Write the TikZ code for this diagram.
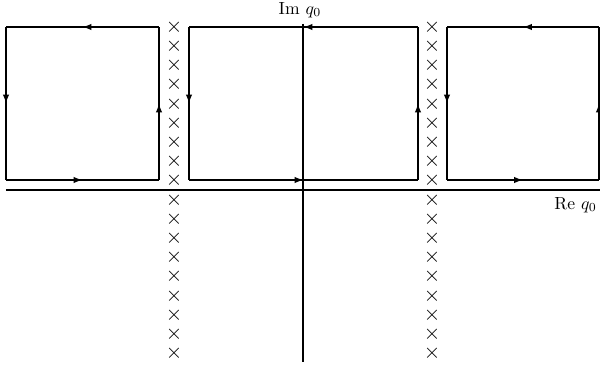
\documentclass[tikz,border=0pt]{standalone}
\usetikzlibrary{arrows.meta,decorations.markings}
\tikzset{
  contour/.style={line width=0.7pt, postaction={decorate},
    decoration={markings, mark=at position 0.5 with {\arrow{Latex[length=5pt,width=3.6pt]}}}},
  axis/.style={line width=1.6pt},
  pole/.style={inner sep=0pt, font=\large}
}
% one closed contour, run anticlockwise: name, left x, right x
\newcommand{\loopbox}[3]{%
  \coordinate (#1-sw) at (#2,180);
  \coordinate (#1-se) at (#3,180);
  \coordinate (#1-ne) at (#3,27);
  \coordinate (#1-nw) at (#2,27);
  \draw[contour] (#1-sw) -- (#1-se);
  \draw[contour] (#1-se) -- (#1-ne);
  \draw[contour] (#1-ne) -- (#1-nw);
  \draw[contour] (#1-nw) -- (#1-sw);
}
\begin{document}
\begin{tikzpicture}[x=0.02cm,y=-0.02cm]
\useasboundingbox (0,0) rectangle (600,368);
% contours
\loopbox{left}{6}{159}
\loopbox{mid}{189}{418}
\loopbox{right}{447}{599}
% poles
\foreach \k in {0,...,17} {
  \node[pole] (pa\k) at (174,{27+19.2*\k}) {$\times$};
  \node[pole] (pb\k) at (432,{27+19.2*\k}) {$\times$};
}
% axes
\node (im) at (300,10) {Im $q_0$};
\node[anchor=east] (re) at (603,205) {Re $q_0$};
\coordinate (ytop) at (303,24);
\coordinate (ybot) at (303,362);
\coordinate (xleft) at (6,190);
\coordinate (xright) at (600,190);
\draw[axis] (ytop) -- (ybot);
\draw[axis] (xleft) -- (xright);
\end{tikzpicture}
\end{document}
